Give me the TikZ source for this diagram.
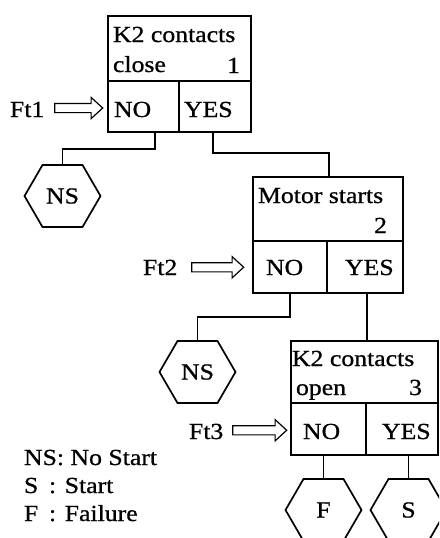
\documentclass[tikz,border=0pt]{standalone}
\usepackage{fontspec}
\setmainfont{Liberation Serif}[FakeStretch=1.12, FakeBold=0.8]
\usetikzlibrary{shapes.arrows}

% hexagonal outline around a (rectangular, undrawn) node
\newcommand\hexframe[1]{%
  \draw[wire] (#1.west) -- ([xshift=18pt]#1.north west) -- ([xshift=-18pt]#1.north east)
    -- (#1.east) -- ([xshift=-18pt]#1.south east) -- ([xshift=18pt]#1.south west) -- cycle;}

\begin{document}
\begin{tikzpicture}[x=1pt,y=-1pt,
  every node/.style={inner sep=0pt, outer sep=0pt, font=\fontsize{23}{27}\selectfont},
  txt/.style={anchor=base west},
  txtr/.style={anchor=base east},
  part/.style={draw, line width=1.7pt, anchor=north west, rectangle},
  hexbox/.style={minimum width=76pt, minimum height=62pt},
  wire/.style={line width=1.7pt},
  fatarrow/.style={single arrow, draw, line width=1.2pt, inner ysep=4pt, inner xsep=0pt,
    single arrow head extend=6pt, single arrow tip angle=85}
]
\path[use as bounding box, clip] (0,0) rectangle (439,538);

% ---- event 1: K2 contacts close
\node[part, minimum width=143pt, minimum height=65pt] (b1) at (108,16) {};
\node[part, minimum width=71pt, minimum height=51pt] (no1) at (108,81) {};
\node[part, minimum width=72pt, minimum height=51pt] (yes1) at (179,81) {};
\node[txt] (b1l1) at (113,42) {K2 contacts};
\node[txt] (b1l2) at (113,72) {close};
\node[txtr] (b1n) at (240,73) {1};
\node[txt] (no1t) at (114,117) {NO};
\node[txt] (yes1t) at (184,117) {YES};

% ---- event 2: motor starts
\node[part, minimum width=150pt, minimum height=64pt] (b2) at (253,177) {};
\node[part, minimum width=74pt, minimum height=52pt] (no2) at (253,241) {};
\node[part, minimum width=76pt, minimum height=52pt] (yes2) at (327,241) {};
\node[txt] (b2l1) at (258,203) {Motor starts};
\node[txtr] (b2n) at (387,233) {2};
\node[txt] (no2t) at (266,275) {NO};
\node[txt] (yes2t) at (345,275) {YES};

% ---- event 3: K2 contacts open
\node[part, minimum width=147pt, minimum height=62pt] (b3) at (291,341) {};
\node[part, minimum width=75pt, minimum height=52pt] (no3) at (291,403) {};
\node[part, minimum width=72pt, minimum height=52pt] (yes3) at (366,403) {};
\node[txt] (b3l1) at (292,366) {K2 contacts};
\node[txt] (b3l2) at (296,395) {open};
\node[txtr] (b3n) at (422,395) {3};
\node[txt] (no3t) at (303,439) {NO};
\node[txt] (yes3t) at (382,439) {YES};

% ---- outcomes
\node[hexbox] (ns1) at (62.5,196) {NS};
\node[hexbox] (ns2) at (197.5,372) {NS};
\node[hexbox] (f) at (323.5,510) {F};
\node[hexbox] (s) at (408.5,510) {S};
\hexframe{ns1}
\hexframe{ns2}
\hexframe{f}
\hexframe{s}

% ---- branches
\draw[wire] ([xshift=11.5pt]no1.south) -- ++(0,17) -| (ns1.north);
\draw[wire] ([xshift=-2pt]yes1.south) -- ++(0,21) -| ([xshift=1pt]b2.north);
\draw[wire] (no2.south) -- ++(0,24) -| (ns2.north);
\draw[wire] ([xshift=2pt]yes2.south) -- ([xshift=2pt]yes2.south |- b3.north);
\draw[wire] (f.north |- no3.south) -- (f.north);
\draw[wire] (s.north |- yes3.south) -- (s.north);

% ---- faults entering the NO branches
\node[txt] (ft1) at (10,117) {Ft1};
\node[txt] (ft2) at (143,275) {Ft2};
\node[txt] (ft3) at (189,439) {Ft3};
\path (ft1.east) -- (no1.west) node[midway, fatarrow, minimum height=48pt] (a1) {};
\path (ft2.east) -- (no2.west) node[midway, fatarrow, minimum height=52pt] (a2) {};
\path (ft3.east) -- (no3.west) node[midway, fatarrow, minimum height=54pt] (a3) {};

% ---- legend
\node[txt] (k1) at (24,465) {NS: No Start};
\node[txt] (k2a) at (24,493) {S};
\node[txt] (k2b) at (49,493) {: Start};
\node[txt] (k3a) at (24,521) {F};
\node[txt] (k3b) at (49,521) {: Failure};
\end{tikzpicture}
\end{document}
